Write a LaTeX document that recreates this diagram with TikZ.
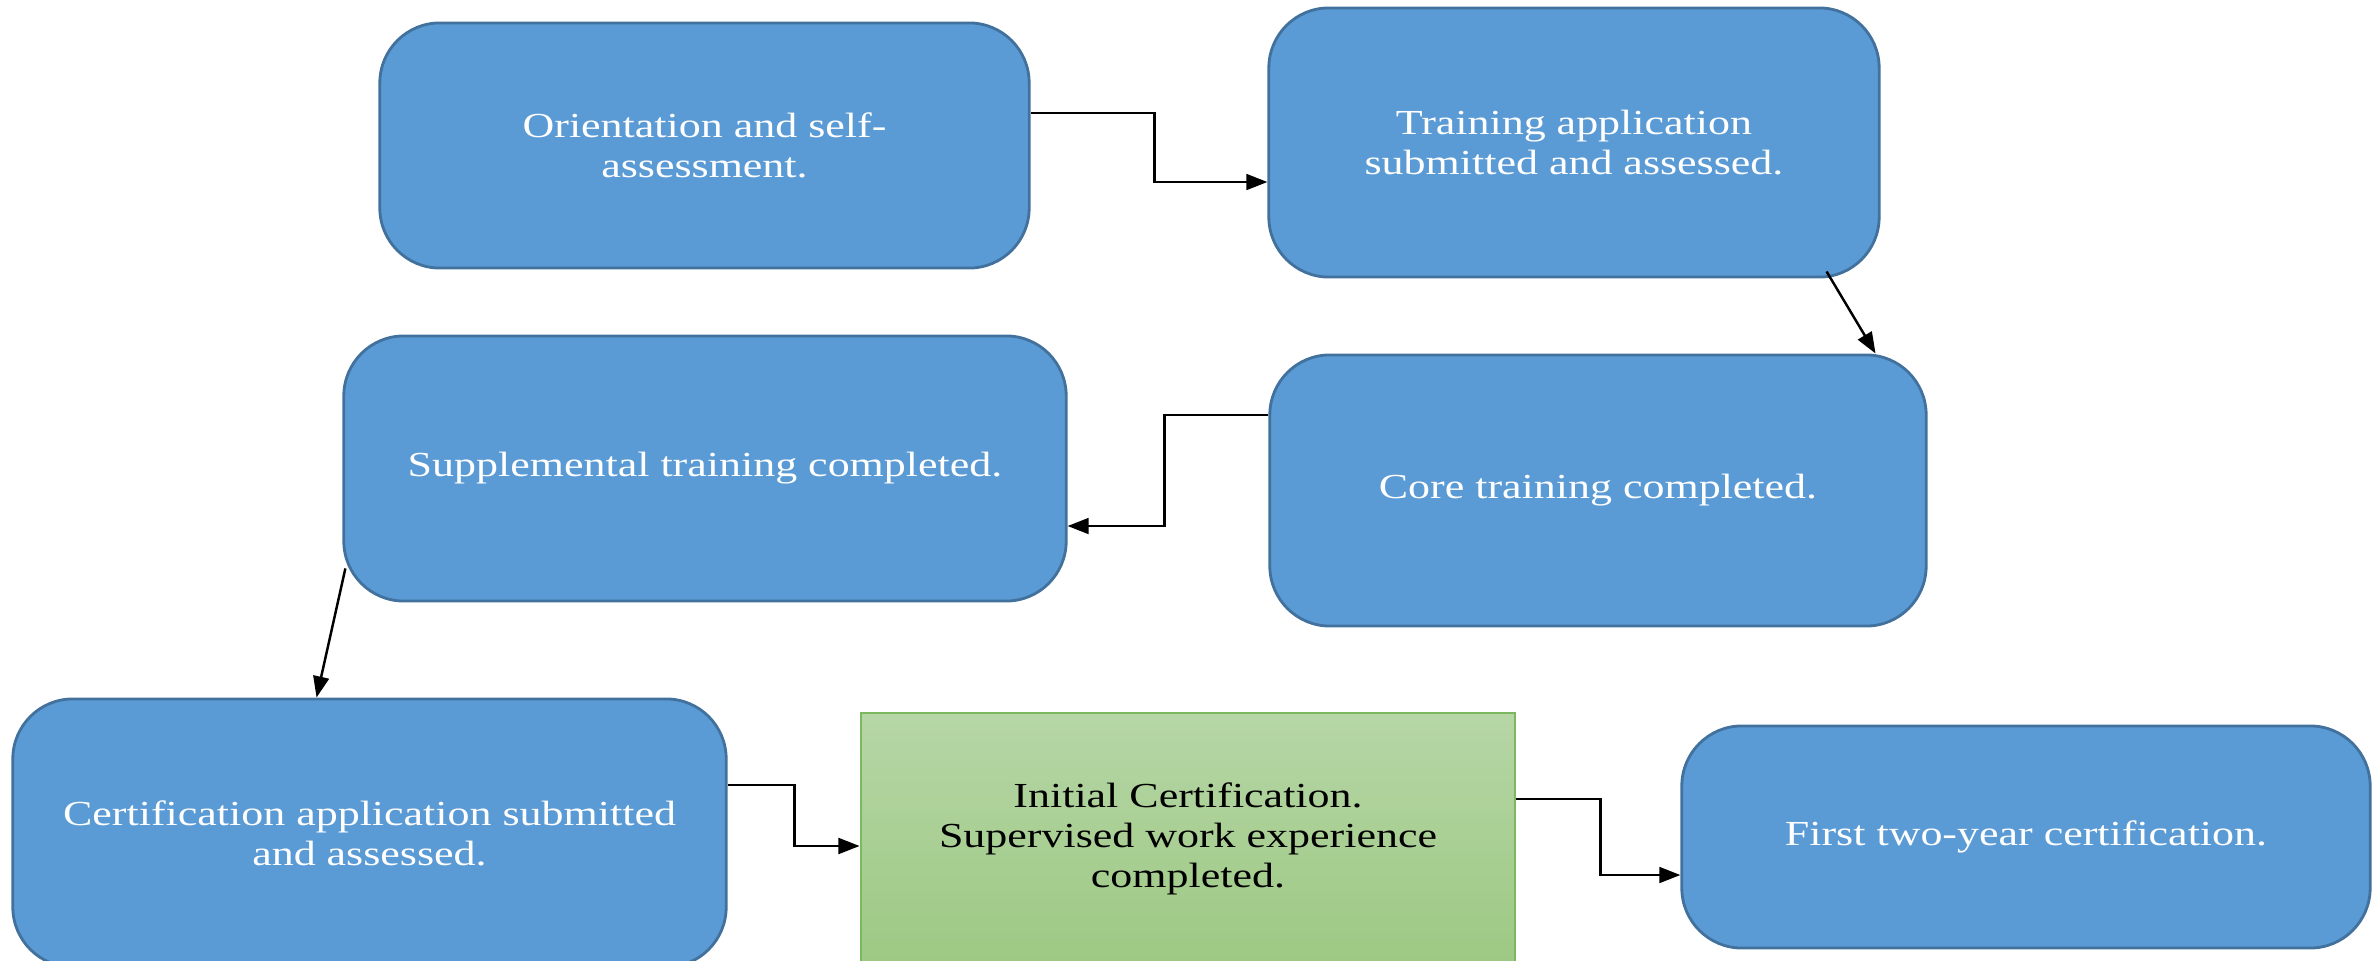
\documentclass[tikz,border=0pt]{standalone}
\usepackage{fontspec}
\setmainfont{Liberation Serif}[FakeStretch=1.25]
\usetikzlibrary{arrows.meta}
\definecolor{stageblue}{HTML}{5B9BD5}
\definecolor{stageedge}{HTML}{41719C}
\definecolor{greentop}{HTML}{B6D6A6}
\definecolor{greenbot}{HTML}{9DC983}
\definecolor{greenedge}{HTML}{7CB860}

\begin{document}
\begin{tikzpicture}[x=0.01cm,y=-0.01cm]
	\tikzstyle{stage}=[draw=stageedge,fill=stageblue,line width=0.8pt,rounded corners=0.6cm,text=white,align=center,inner sep=0pt,font=\fontsize{10}{11.4}\selectfont]
	\tikzstyle{certbox}=[draw=greenedge,line width=0.7pt,top color=greentop,bottom color=greenbot,align=center,inner sep=0pt,font=\fontsize{10}{11.4}\selectfont]
	\tikzstyle{link}=[line width=0.7pt,-{Triangle[length=6pt,width=4.5pt]}]
	\useasboundingbox (0,0) rectangle (2377,961);
	\clip (0,0) rectangle (2377,961);
	\node[stage,minimum width=6.49cm,minimum height=2.45cm](orient) at (704.5,145.5) {Orientation and self-\\assessment.};
	\node[stage,minimum width=6.10cm,minimum height=2.69cm](train) at (1574,142.5) {Training application\\submitted and assessed.};
	\node[stage,minimum width=6.56cm,minimum height=2.71cm](core) at (1598,490.5) {Core training completed.};
	\node[stage,minimum width=7.22cm,minimum height=2.65cm](supp) at (705,468.5) {Supplemental training completed.};
	\node[stage,minimum width=7.13cm,minimum height=2.68cm](apply) at (369.5,833) {Certification application submitted\\and assessed.};
	\node[certbox,minimum width=6.54cm,minimum height=2.52cm](init) at (1188,839) {Initial Certification.\\Supervised work experience\\completed.};
	\node[stage,minimum width=6.88cm,minimum height=2.22cm](first) at (2026,837) {First two-year certification.};
	\draw[link]([yshift=0.325cm]orient.east) -- ++(124,0) |- ([yshift=-0.395cm]train.west);
	\draw[link]([xshift=-0.54cm,yshift=0.07cm]train.south east) -- ([xshift=-0.52cm]core.north east);
	\draw[link]([yshift=0.755cm]core.west) -- ++(-104,0) |- ([yshift=-0.575cm]supp.east);
	\draw[link]([xshift=0.03cm,yshift=0.34cm]supp.south west) -- ([xshift=3.05cm]apply.north west);
	\draw[link]([yshift=0.48cm]apply.east) -- ++(67,0) |- ([yshift=-0.07cm]init.west);
	\draw[link]([yshift=0.40cm]init.east) -- ++(84,0) |- ([yshift=-0.38cm]first.west);
\end{tikzpicture}
\end{document}
